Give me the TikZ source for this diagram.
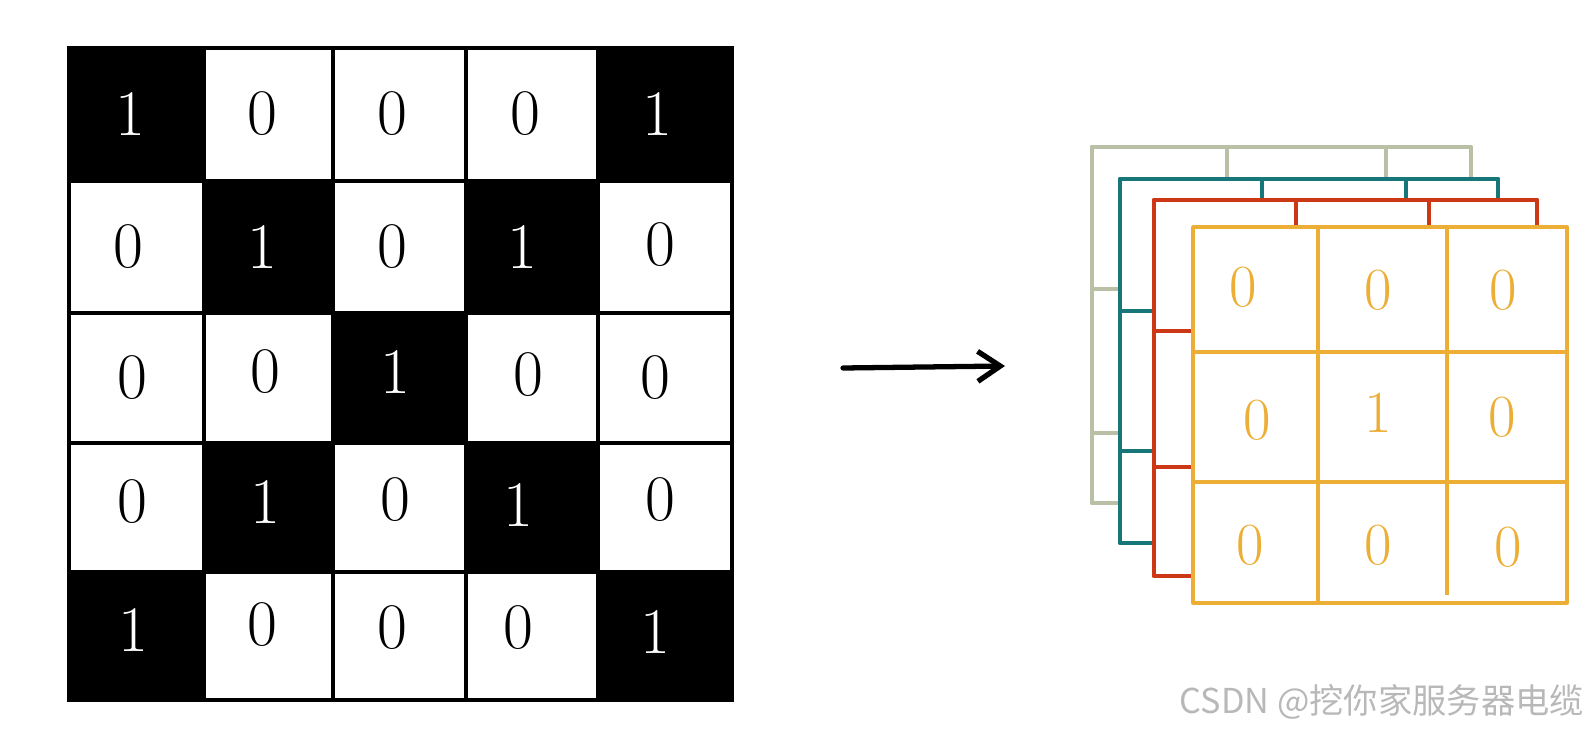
\documentclass[tikz,border=0pt]{standalone}
\usepackage{fontspec}
\usepackage{tikz}
\usetikzlibrary{arrows.meta}
\newfontfamily\cjk{Noto Sans CJK SC}
\definecolor{layergray}{RGB}{186,192,166}
\definecolor{layerteal}{RGB}{22,118,122}
\definecolor{layerred}{RGB}{204,56,22}
\definecolor{layeryellow}{RGB}{236,174,52}

\begin{document}
\begin{tikzpicture}[x=0.02cm,y=-0.02cm,
    cellline/.style={black,line width=2.3pt},
    bitdark/.style={white,font=\fontsize{37}{37}\selectfont},
    bitlight/.style={black,font=\fontsize{37}{37}\selectfont},
    bitout/.style={layeryellow,font=\fontsize{34}{34}\selectfont},
    layerbox/.style={fill=white,line width=2.8pt,line join=round}]
    \useasboundingbox (0,0) rectangle (1592,733);
    % Input image: black cells where the value is 1
    \fill[black] (69,48) rectangle (204,181);
    \fill[black] (598,48) rectangle (732,181);
    \fill[black] (204,181) rectangle (333,313);
    \fill[black] (466,181) rectangle (598,313);
    \fill[black] (333,313) rectangle (466,443);
    \fill[black] (204,443) rectangle (333,572);
    \fill[black] (466,443) rectangle (598,572);
    \fill[black] (69,572) rectangle (204,700);
    \fill[black] (598,572) rectangle (732,700);
    % Grid lines
    \draw[cellline] (69,48) rectangle (732,700);
    \draw[cellline] (204,48) -- (204,700) (333,48) -- (333,700)
                    (466,48) -- (466,700) (598,48) -- (598,700);
    \draw[cellline] (69,181) -- (732,181) (69,313) -- (732,313)
                    (69,443) -- (732,443) (69,572) -- (732,572);
    % Values, row by row
    \node[bitdark]  (in11) at (130,114) {1};
    \node[bitlight] (in12) at (262,114) {0};
    \node[bitlight] (in13) at (392,114) {0};
    \node[bitlight] (in14) at (525,114) {0};
    \node[bitdark]  (in15) at (657,114) {1};
    \node[bitlight] (in21) at (128,247) {0};
    \node[bitdark]  (in22) at (262,247) {1};
    \node[bitlight] (in23) at (392,247) {0};
    \node[bitdark]  (in24) at (522,247) {1};
    \node[bitlight] (in25) at (660,245) {0};
    \node[bitlight] (in31) at (132,378) {0};
    \node[bitlight] (in32) at (265,372) {0};
    \node[bitdark]  (in33) at (395,372) {1};
    \node[bitlight] (in34) at (528,375) {0};
    \node[bitlight] (in35) at (655,378) {0};
    \node[bitlight] (in41) at (132,502) {0};
    \node[bitdark]  (in42) at (265,502) {1};
    \node[bitlight] (in43) at (395,500) {0};
    \node[bitdark]  (in44) at (518,505) {1};
    \node[bitlight] (in45) at (660,500) {0};
    \node[bitdark]  (in51) at (133,630) {1};
    \node[bitlight] (in52) at (262,625) {0};
    \node[bitlight] (in53) at (392,628) {0};
    \node[bitlight] (in54) at (518,628) {0};
    \node[bitdark]  (in55) at (655,632) {1};
    % Arrow
    \coordinate (arrowStart) at (843,368);
    \coordinate (arrowEnd) at (1005,366);
    \draw[line width=3pt,line cap=round,-{Straight Barb[length=0.45cm,width=0.6cm]}]
        (arrowStart) -- (arrowEnd);
    % Stacked layers, back to front
    \filldraw[layerbox,draw=layergray] (1092,147) rectangle (1471,503);
    \draw[layergray,line width=2.8pt] (1227,147) -- (1227,503) (1386,147) -- (1386,503)
                                      (1092,289) -- (1471,289) (1092,433) -- (1471,433);
    \filldraw[layerbox,draw=layerteal] (1120,179) rectangle (1498,543);
    \draw[layerteal,line width=2.8pt] (1262,179) -- (1262,543) (1406,179) -- (1406,543)
                                      (1120,311) -- (1498,311) (1120,451) -- (1498,451);
    \filldraw[layerbox,draw=layerred] (1154,200) rectangle (1537,576);
    \draw[layerred,line width=2.8pt] (1296,200) -- (1296,576) (1429,200) -- (1429,576)
                                     (1154,331) -- (1537,331) (1154,467) -- (1537,467);
    \filldraw[layerbox,draw=layeryellow,line width=2.2pt] (1193,227) rectangle (1567,603);
    \draw[layeryellow,line width=2.2pt] (1318,227) -- (1318,603) (1447,227) -- (1447,595)
                                        (1193,352) -- (1567,352) (1193,482) -- (1567,482);
    % Output values
    \node[bitout] (out11) at (1243,287) {0};
    \node[bitout] (out12) at (1378,290) {0};
    \node[bitout] (out13) at (1503,290) {0};
    \node[bitout] (out21) at (1257,420) {0};
    \node[bitout] (out22) at (1378,413) {1};
    \node[bitout] (out23) at (1502,417) {0};
    \node[bitout] (out31) at (1250,545) {0};
    \node[bitout] (out32) at (1378,545) {0};
    \node[bitout] (out33) at (1508,547) {0};
    % Watermark
    \node[text=black!28,font=\cjk\fontsize{19.5}{20}\selectfont,anchor=east]
        (mark) at (1590,702) {CSDN @挖你家服务器电缆};
\end{tikzpicture}
\end{document}
